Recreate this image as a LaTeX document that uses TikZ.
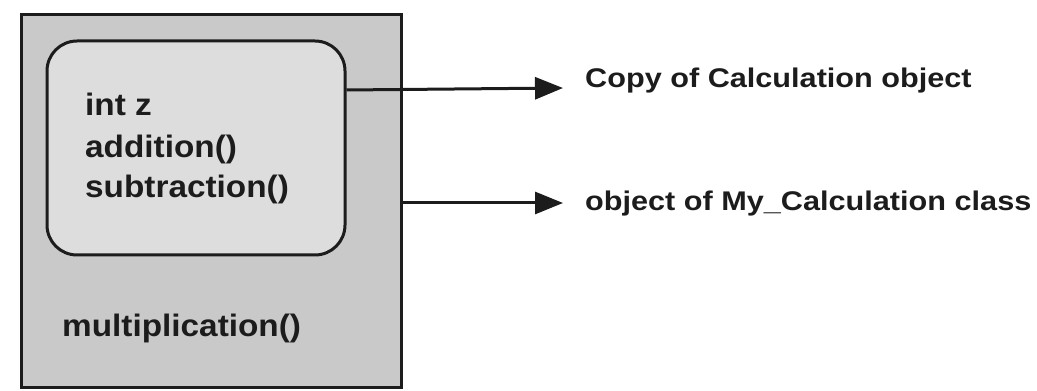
\documentclass[tikz,border=0pt]{standalone}
\usepackage{fontspec}
\usetikzlibrary{arrows.meta}
\newfontfamily\membfont[FakeStretch=1.075]{Liberation Sans}
\newfontfamily\notefont[FakeStretch=1.135]{Liberation Sans}
\definecolor{outerfill}{RGB}{201,201,201}
\definecolor{innerfill}{RGB}{221,221,221}
\definecolor{ink}{RGB}{28,28,28}
\tikzset{
  frame/.style={draw=ink, line width=3pt, inner sep=0pt},
  member/.style={anchor=base west, inner sep=0pt, text=ink,
    font=\membfont\bfseries\fontsize{31}{31}\selectfont},
  note/.style={anchor=base west, inner sep=0pt, text=ink,
    font=\notefont\bfseries\fontsize{27}{27}\selectfont},
  pointer/.style={draw=ink, line width=3pt,
    -{Triangle[length=28pt,width=22pt]}}
}
\begin{document}
\begin{tikzpicture}[x=1pt,y=1pt]
\useasboundingbox (0,0) rectangle (1037,391);
% object of the derived class
\node[frame, fill=outerfill, minimum width=380pt, minimum height=373pt]
  (outer) at (211,189.5) {};
% inherited part (copy of the base class object)
\node[frame, fill=innerfill, rounded corners=30pt,
  minimum width=298pt, minimum height=214pt] (inner) at (196,243) {};
% members
\node[member] (intz) at (85,275) {int z};
\node[member] (add)  at (85,233) {addition()};
\node[member] (sub)  at (85,193) {subtraction()};
\node[member] (mul)  at (62,54)  {multiplication()};
% notes
\node[note] (copy) at (585,303) {Copy of Calculation object};
\node[note] (obj)  at (585,180) {object of My\_Calculation class};
% pointers
\coordinate (s1) at (inner.east |- 0,301);
\coordinate (t1) at (563,303);
\coordinate (s2) at (outer.east |- 0,188);
\coordinate (t2) at (563,188);
\draw[pointer] (s1) -- (t1);
\draw[pointer] (s2) -- (t2);
\end{tikzpicture}
\end{document}
